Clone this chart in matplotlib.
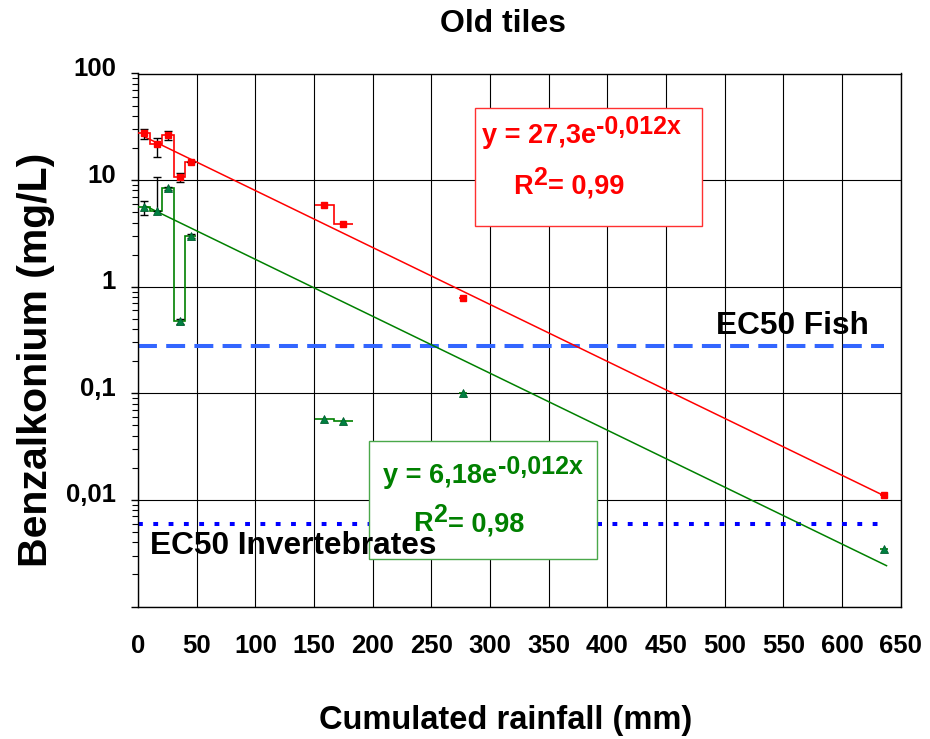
import numpy as np
import matplotlib
matplotlib.use('Agg')
import matplotlib.pyplot as plt
from matplotlib.patches import Rectangle
from matplotlib.text import Annotation
from matplotlib.transforms import ScaledTranslation

plt.rcParams['font.family'] = ['Liberation Sans', 'DejaVu Sans']
plt.rcParams['font.weight'] = 'bold'

# red series (squares)
red_x1 = [5.4, 15.9, 25.8, 35.8, 44.9]
red_y1 = [27.9, 21.7, 26.5, 10.8, 14.7]
red_lo1 = [24.3, 16.6, 23.8, 9.7, 14.7]
red_hi1 = [30.1, 25.0, 29.0, 11.6, 14.7]
red_x2 = [158.8, 175.0]
red_y2 = [5.84, 3.85]
red_x3 = [277.0]
red_y3 = [0.79]
red_x4 = [636.0]
red_y4 = [0.011]

# green series (triangles)
green_x1 = [5.4, 15.9, 25.8, 35.8, 44.9]
green_y1 = [5.56, 5.13, 8.37, 0.477, 2.99]
green_lo1 = [4.71, 5.13, 8.0, 0.45, 2.85]
green_hi1 = [6.37, 10.8, 8.7, 0.50, 3.1]
green_x2 = [158.8, 175.0]
green_y2 = [0.058, 0.055]
green_x3 = [277.0]
green_y3 = [0.100]
green_x4 = [636.0]
green_y4 = [0.0035]

# trend lines y = a*exp(-b*x)
red_a, red_b = 27.3, 0.0123
green_a, green_b = 6.18, 0.0123
trend_range = [5.4, 638.0]

ec50_fish = 0.28
ec50_invert = 0.0059
ec50_range = [0, 636]

y_ticks = [0.001, 0.01, 0.1, 1, 10, 100]
y_labels = ['', '0,01', '0,1', '1', '10', '100']
x_ticks = list(range(0, 651, 50))

W, H = 930, 739


def fx(px):
    return px / W


def fy(py):
    return 1 - py / H


def step_edges(x, pad):
    x = np.asarray(x, float)
    if len(x) == 1:
        return np.array([x[0] - pad, x[0] + pad])
    mid = (x[:-1] + x[1:]) / 2
    return np.concatenate([[x[0] - (mid[0] - x[0])], mid, [x[-1] + (x[-1] - mid[-1])]])


fig = plt.figure(figsize=(9.3, 7.39), dpi=100)
ax = fig.add_axes([fx(138), fy(606.5), fx(900.6 - 138), (606.5 - 73.5) / H])
ax.set_yscale('log')
ax.set_xlim(0, 650)
ax.set_ylim(0.001, 100)

ax.grid(True, which='major', color='black', lw=0.8, zorder=0)
ax.set_axisbelow(True)
for s in ax.spines.values():
    s.set_color('black')
    s.set_linewidth(1.0)

# EC50 lines
ax.plot(ec50_range, [ec50_fish] * 2, color='#3366ff', lw=2.9, dashes=(4.7, 2.3), zorder=2)
ax.plot(ec50_range, [ec50_invert] * 2, color='#0000ff', lw=2.9, dashes=(1.2, 2.6), zorder=2)

# trend lines
tx = np.linspace(trend_range[0], trend_range[1], 300)
ax.plot(tx, red_a * np.exp(-red_b * tx), color='#ff0000', lw=1.1, zorder=3)
ax.plot(tx, green_a * np.exp(-green_b * tx), color='#008000', lw=1.1, zorder=3)

# step lines
for xs, ys, pad in [(red_x1, red_y1, 5), (red_x2, red_y2, 5), (red_x3, red_y3, 3.5), (red_x4, red_y4, 3.5)]:
    ax.stairs(ys, step_edges(xs, pad), baseline=None, color='#ff0000', lw=1.2, zorder=3)
for xs, ys, pad in [(green_x1, green_y1, 5), (green_x2, green_y2, 5), (green_x3, green_y3, 3.5), (green_x4, green_y4, 3.5)]:
    ax.stairs(ys, step_edges(xs, pad), baseline=None, color='#008000', lw=1.2, zorder=3)

# error bars
ax.errorbar(red_x1, red_y1, yerr=[np.subtract(red_y1, red_lo1), np.subtract(red_hi1, red_y1)],
            fmt='none', ecolor='black', elinewidth=1, capsize=3, zorder=4)
ax.errorbar(green_x1, green_y1, yerr=[np.subtract(green_y1, green_lo1), np.subtract(green_hi1, green_y1)],
            fmt='none', ecolor='black', elinewidth=1, capsize=3, zorder=4)

# markers
rx = red_x1 + red_x2 + red_x3 + red_x4
ry = red_y1 + red_y2 + red_y3 + red_y4
gx = green_x1 + green_x2 + green_x3 + green_x4
gy = green_y1 + green_y2 + green_y3 + green_y4
ax.plot(rx, ry, ls='none', marker='s', ms=5, color='#ff0000', mec='#ff0000', zorder=5)
ax.plot(gx, gy, ls='none', marker='^', ms=6, color='#008040', mec='#006030', mew=0.6, zorder=5)

# ticks
ax.set_xticks(x_ticks)
ax.set_xticklabels([str(v) for v in x_ticks])
ax.set_yticks(y_ticks)
ax.set_yticklabels(y_labels)
ax.yaxis.set_minor_locator(matplotlib.ticker.LogLocator(base=10, subs=np.arange(2, 10)))
ax.yaxis.set_minor_formatter(matplotlib.ticker.NullFormatter())
ax.tick_params(axis='x', which='both', length=0, pad=20, labelsize=18.5)
ax.tick_params(axis='y', which='major', length=5, width=1, direction='out', pad=11, labelsize=18.5)
ax.tick_params(axis='y', which='minor', length=4, width=0.8, direction='out')
shift = ScaledTranslation(0, 5 / 72, fig.dpi_scale_trans)
for lab in ax.get_yticklabels():
    lab.set_transform(lab.get_transform() + shift)
for lab in ax.get_xticklabels() + ax.get_yticklabels():
    lab.set_fontweight('bold')

# titles
fig.text(fx(503), fy(32), 'Old tiles', ha='center', va='baseline', fontsize=23, fontweight='bold')
fig.text(fx(506), fy(729), 'Cumulated rainfall (mm)', ha='center', va='baseline', fontsize=23.5, fontweight='bold')
fig.text(fx(36), fy(360), 'Benzalkonium (mg/L)', ha='center', va='center', rotation=90, fontsize=29.5,
         fontweight='bold')

# EC50 labels
fig.text(fx(716), fy(334), 'EC50 Fish', ha='left', va='baseline', fontsize=22.8, fontweight='bold', zorder=6)
fig.text(fx(150), fy(554), 'EC50 Invertebrates', ha='left', va='baseline', fontsize=22.8, fontweight='bold',
         zorder=6)

# equation boxes
fig.add_artist(Rectangle((fx(475), fy(226)), fx(702.3 - 475), (226 - 108.3) / H, transform=fig.transFigure,
                         facecolor='white', edgecolor='#ff3030', lw=1.0, zorder=1))
fig.add_artist(Rectangle((fx(369.3), fy(559)), fx(596.7 - 369.3), (559 - 440.7) / H, transform=fig.transFigure,
                         facecolor='white', edgecolor='#4aa84a', lw=1.0, zorder=1))


def sup_line(x, y, parts, color):
    # text pieces alternating between baseline and superscript
    prev = fig.text(fx(x), fy(y), parts[0], color=color, fontsize=19.5, fontweight='bold',
                    ha='left', va='bottom', zorder=5)
    raise_pt = 7.0
    for i, p in enumerate(parts[1:]):
        up = (i % 2 == 0)
        ann = Annotation(p, xy=(1, 0), xycoords=prev, xytext=(0.5, raise_pt if up else -raise_pt),
                         textcoords='offset points', color=color, fontsize=18 if up else 19.5,
                         fontweight='bold', ha='left', va='bottom', annotation_clip=False)
        ann.set_zorder(5)
        fig.add_artist(ann)
        prev = ann
    return prev


sup_line(481.7, 149, ['y = 27,3e', '-0,012x'], '#ff0000')
sup_line(513.3, 200, ['R', '2', '= 0,99'], '#ff0000')
sup_line(383.3, 489, ['y = 6,18e', '-0,012x'], '#008000')
sup_line(413.3, 537, ['R', '2', '= 0,98'], '#008000')

fig.savefig('out.png', dpi=100)
